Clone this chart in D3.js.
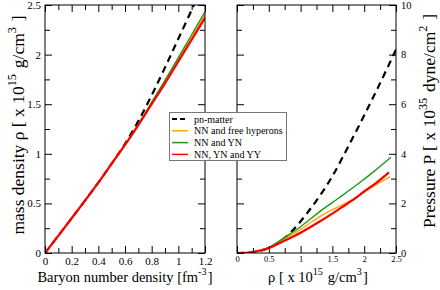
<!DOCTYPE html>
<html>
<head>
<meta charset="utf-8">
<script src="https://cdn.jsdelivr.net/npm/d3@7"></script>
<style>
  body { margin: 0; background: #fff; }
  svg { display: block; }
  svg text { font-family: "Liberation Serif", "DejaVu Serif", serif; }
</style>
</head>
<body>
<div id="chart"></div>
<script>
// left panel: baryon number density (fm^-3) vs mass density (10^15 g/cm^3)
var mass_pn   = [[0,0],[0.2,0.35],[0.4,0.71],[0.5,0.9],[0.6,1.1],[0.7,1.33],[0.8,1.59],[0.9,1.87],[1.0,2.16],[1.1,2.45],[1.12,2.51]];
var mass_free = [[0,0],[0.2,0.35],[0.4,0.71],[0.5,0.9],[0.6,1.09],[0.7,1.295],[0.8,1.51],[0.9,1.725],[1.0,1.95],[1.1,2.175],[1.2,2.40]];
var mass_yn   = [[0,0],[0.2,0.35],[0.4,0.71],[0.5,0.9],[0.6,1.09],[0.7,1.30],[0.8,1.52],[0.9,1.74],[1.0,1.97],[1.1,2.20],[1.2,2.43]];
var mass_yy   = [[0,0],[0.2,0.35],[0.4,0.71],[0.5,0.9],[0.6,1.09],[0.7,1.29],[0.8,1.50],[0.9,1.71],[1.0,1.93],[1.1,2.15],[1.2,2.37]];

// right panel: mass density (10^15 g/cm^3) vs pressure (10^35 dyne/cm^2)
var pres_pn   = [[0,0],[0.25,0.03],[0.5,0.2],[0.7,0.5],[0.9,0.98],[1.1,1.6],[1.3,2.3],[1.5,3.1],[1.75,4.3],[2.0,5.55],[2.25,6.85],[2.5,8.2]];
var pres_free = [[0,0],[0.25,0.03],[0.5,0.22],[0.75,0.57],[1.0,0.95],[1.2,1.3],[1.4,1.62],[1.6,1.87],[1.8,2.13],[2.0,2.46],[2.2,2.78],[2.41,3.08]];
var pres_yn   = [[0,0],[0.25,0.03],[0.5,0.22],[0.75,0.63],[1.0,1.06],[1.3,1.67],[1.6,2.22],[1.9,2.78],[2.15,3.28],[2.42,3.86]];
var pres_yy   = [[0,0],[0.25,0.04],[0.5,0.2],[0.75,0.5],[1.0,0.82],[1.3,1.27],[1.6,1.76],[1.8,2.1],[2.0,2.48],[2.2,2.85],[2.39,3.25]];

var left_xticks  = [0, 0.2, 0.4, 0.6, 0.8, 1, 1.2];
var left_yticks  = [0, 0.5, 1, 1.5, 2, 2.5];
var right_xticks = [0, 0.5, 1, 1.5, 2, 2.5];
var right_yticks = [0, 2, 4, 6, 8, 10];

var legend_names = ["pn-matter", "NN and free hyperons", "NN and YN", "NN, YN and YY"];

var styles = [
  {color: "#000000", width: 2.2, dash: "7,5"},
  {color: "#ffa500", width: 1.4, dash: null},
  {color: "#1a9a1a", width: 1.4, dash: null},
  {color: "#ff0000", width: 2.2, dash: null}
];

var serif = "Liberation Serif, DejaVu Serif, serif";
var W = 440, H = 290;
var svg = d3.select("#chart").append("svg").attr("width", W).attr("height", H);

function minorOf(ticks) {
  var out = [];
  for (var i = 0; i < ticks.length - 1; i++) out.push((ticks[i] + ticks[i+1]) / 2);
  return out;
}

function frame(g, x, y, xt, yt, opts) {
  var x0 = x.range()[0], x1 = x.range()[1], y0 = y.range()[0], y1 = y.range()[1];
  var fmt = function(d) { return String(d); };
  // bottom
  g.append("g").attr("transform", "translate(0," + y0 + ")")
    .call(d3.axisBottom(x).tickValues(xt).tickSize(-7).tickPadding(opts.xpad).tickFormat(fmt))
    .call(s => s.selectAll("text").attr("font-size", opts.xfs));
  g.append("g").attr("transform", "translate(0," + y0 + ")")
    .call(d3.axisBottom(x).tickValues(minorOf(xt)).tickSize(-5).tickFormat(""));
  // top
  g.append("g").attr("transform", "translate(0," + y1 + ")")
    .call(d3.axisTop(x).tickValues(xt).tickSize(-7).tickFormat(""));
  g.append("g").attr("transform", "translate(0," + y1 + ")")
    .call(d3.axisTop(x).tickValues(minorOf(xt)).tickSize(-5).tickFormat(""));
  // left
  var la = d3.axisLeft(y).tickValues(yt).tickSize(-7).tickPadding(opts.ypad);
  la.tickFormat(opts.yside === "left" ? fmt : "");
  g.append("g").attr("transform", "translate(" + x0 + ",0)").call(la)
    .call(s => s.selectAll("text").attr("font-size", opts.yfs));
  g.append("g").attr("transform", "translate(" + x0 + ",0)")
    .call(d3.axisLeft(y).tickValues(minorOf(yt)).tickSize(-5).tickFormat(""));
  // right
  var ra = d3.axisRight(y).tickValues(yt).tickSize(-7).tickPadding(opts.ypad);
  ra.tickFormat(opts.yside === "right" ? fmt : "");
  g.append("g").attr("transform", "translate(" + x1 + ",0)").call(ra)
    .call(s => s.selectAll("text").attr("font-size", opts.yfs));
  g.append("g").attr("transform", "translate(" + x1 + ",0)")
    .call(d3.axisRight(y).tickValues(minorOf(yt)).tickSize(-5).tickFormat(""));

  g.selectAll(".domain").remove();
  g.selectAll("g").attr("font-family", serif);
  g.selectAll("text").attr("font-family", serif).attr("fill", "#000");
  g.append("rect").attr("x", x0).attr("y", y1).attr("width", x1 - x0).attr("height", y0 - y1)
    .attr("fill", "none").attr("stroke", "#000").attr("stroke-width", 1);
}

function drawLines(g, x, y, series) {
  var line = d3.line().x(d => x(d[0])).y(d => y(d[1])).curve(d3.curveCatmullRom.alpha(0.5));
  series.forEach(function(s, i) {
    g.append("path").datum(s)
      .attr("d", line)
      .attr("fill", "none")
      .attr("stroke", styles[i].color)
      .attr("stroke-width", styles[i].width)
      .attr("stroke-dasharray", styles[i].dash);
  });
}

// text with superscripts: parts = [[text, sup?], ...]
function richText(sel, parts, fs) {
  sel.attr("font-family", serif).attr("font-size", fs);
  parts.forEach(function(p) {
    if (p[1]) {
      sel.append("tspan").attr("dy", -fs * 0.45).attr("font-size", fs * 0.7).text(p[0]);
      sel.append("tspan").attr("dy", fs * 0.45).attr("font-size", fs).text("\u200a");
    } else {
      sel.append("tspan").attr("font-size", fs).text(p[0]);
    }
  });
}

// ---- left panel
var xL = d3.scaleLinear().domain([0, 1.2]).range([45, 205]);
var yL = d3.scaleLinear().domain([0, 2.5]).range([253, 5]);
var gL = svg.append("g");
svg.append("clipPath").attr("id", "clipL").append("rect")
  .attr("x", 45).attr("y", 5).attr("width", 160).attr("height", 248);
drawLines(gL.append("g").attr("clip-path", "url(#clipL)"), xL, yL, [mass_pn, mass_free, mass_yn, mass_yy]);
frame(gL, xL, yL, left_xticks, left_yticks, {xpad: 4, ypad: 4, xfs: 11, yfs: 11, yside: "left"});

// ---- right panel
var xR = d3.scaleLinear().domain([0, 2.5]).range([237, 396]);
var yR = d3.scaleLinear().domain([0, 10]).range([253, 5]);
var gR = svg.append("g");
svg.append("clipPath").attr("id", "clipR").append("rect")
  .attr("x", 237).attr("y", 5).attr("width", 159).attr("height", 248);
drawLines(gR.append("g").attr("clip-path", "url(#clipR)"), xR, yR, [pres_pn, pres_free, pres_yn, pres_yy]);
frame(gR, xR, yR, right_xticks, right_yticks, {xpad: 3, ypad: 5, xfs: 8.5, yfs: 10.5, yside: "right"});

// ---- axis titles
richText(svg.append("text").attr("transform", "translate(24,125) rotate(-90)").attr("text-anchor", "middle"),
  [["mass density \u03c1 [ x 10"], ["15", 1], [" g/cm"], ["3", 1], [" ]"]], 17.5);
richText(svg.append("text").attr("transform", "translate(435,121) rotate(-90)").attr("text-anchor", "middle"),
  [["Pressure P [ x 10"], ["35", 1], [" dyne/cm"], ["2", 1], [" ]"]], 17.5);
richText(svg.append("text").attr("x", 125).attr("y", 282).attr("text-anchor", "middle"),
  [["Baryon number density [fm"], ["-3", 1], ["]"]], 14.5);
richText(svg.append("text").attr("x", 318).attr("y", 282).attr("text-anchor", "middle"),
  [["\u03c1 [ x 10"], ["15", 1], [" g/cm"], ["3", 1], ["]"]], 14.5);

// ---- legend
var lg = svg.append("g");
lg.append("rect").attr("x", 169.5).attr("y", 112.5).attr("width", 117).attr("height", 48)
  .attr("fill", "#fff").attr("stroke", "#777").attr("stroke-width", 1);
legend_names.forEach(function(name, i) {
  var yy = 119 + i * 11.8;
  lg.append("line").attr("x1", 172).attr("x2", 188).attr("y1", yy).attr("y2", yy)
    .attr("stroke", styles[i].color).attr("stroke-width", i === 0 ? 2 : 1.5)
    .attr("stroke-dasharray", i === 0 ? "5,3" : null);
  lg.append("text").attr("x", 194).attr("y", yy + 3.5).attr("font-size", 10)
    .attr("font-family", serif).text(name);
});
</script>
</body>
</html>
